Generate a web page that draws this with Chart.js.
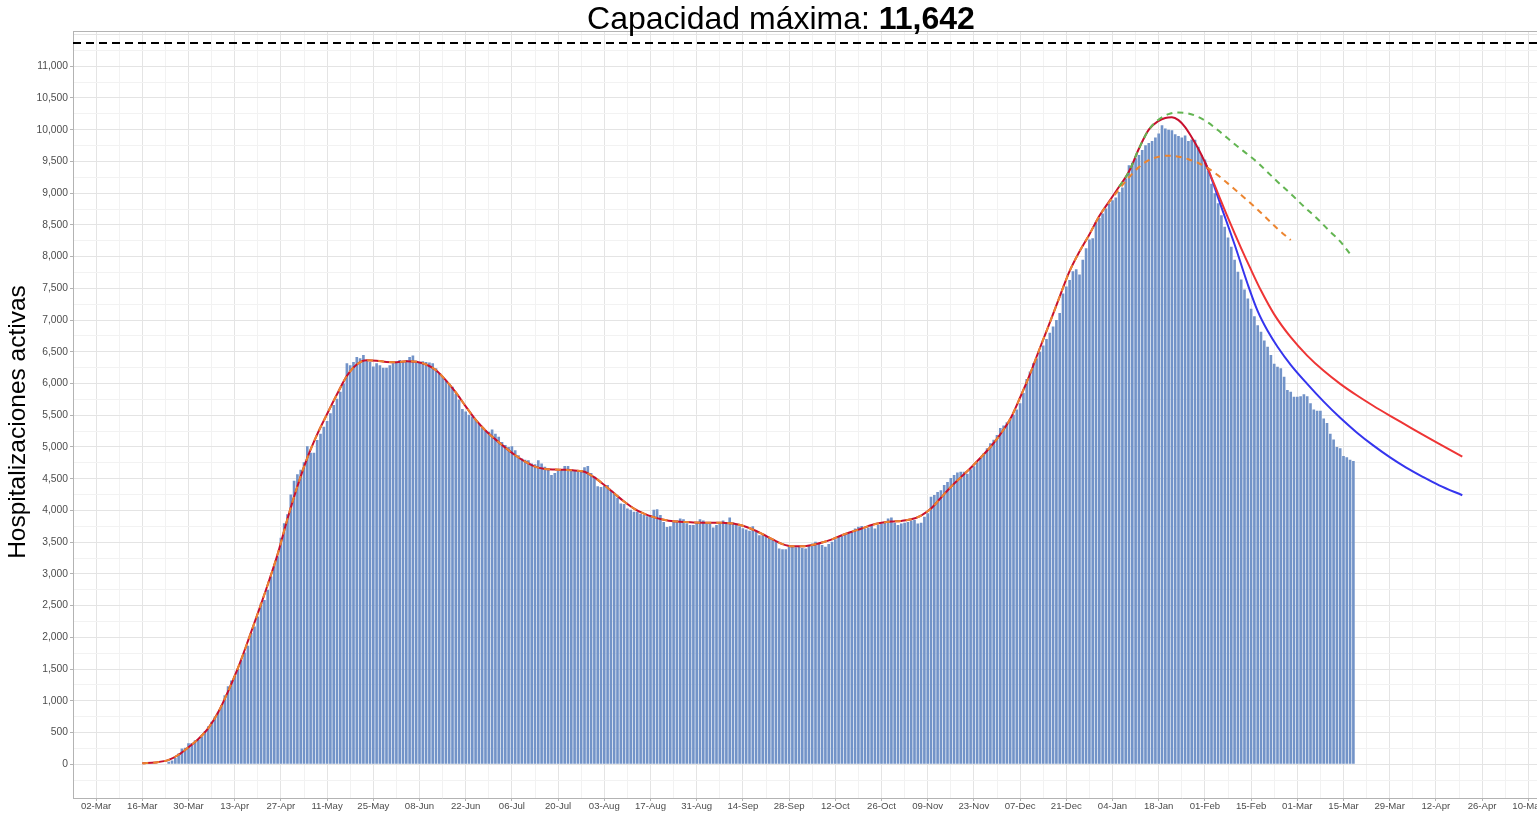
<!DOCTYPE html>
<html>
<head>
<meta charset="utf-8">
<script src="https://cdn.jsdelivr.net/npm/chart.js@4.4.1/dist/chart.umd.min.js"></script>
<style>
  html, body { margin: 0; padding: 0; background: #fff; overflow: hidden; }
  canvas { display: block; }
</style>
</head>
<body>
<canvas id="hospChart" width="1560" height="814"></canvas>
<script>
// day 0 = 02-Mar-2020, one unit per day
const xTickLabels = ['02-Mar','16-Mar','30-Mar','13-Apr','27-Apr','11-May','25-May','08-Jun','22-Jun','06-Jul',
  '20-Jul','03-Aug','17-Aug','31-Aug','14-Sep','28-Sep','12-Oct','26-Oct','09-Nov','23-Nov','07-Dec','21-Dec',
  '04-Jan','18-Jan','01-Feb','15-Feb','01-Mar','15-Mar','29-Mar','12-Apr','26-Apr','10-May'];

const capacidadMaxima = '11,642';
const lineaCapacidad = 11367;

// daily active hospitalizations, first bar = day 22 (24-Mar-2020)
const primerDiaBarras = 22;
const hospitalizaciones = [
  40, 60, 100, 170, 250, 260, 330, 335, 380, 385,
  440, 520, 600, 670, 750, 830, 930, 1090, 1230, 1320,
  1390, 1500, 1640, 1760, 1870, 2070, 2170, 2330, 2540, 2590,
  2750, 2960, 3150, 3280, 3570, 3800, 3940, 4250, 4470, 4570,
  4640, 4760, 5010, 4910, 4910, 5110, 5210, 5320, 5410, 5530,
  5660, 5760, 5870, 6000, 6320, 6290, 6340, 6420, 6400, 6450,
  6370, 6340, 6270, 6320, 6290, 6250, 6250, 6290, 6320, 6330,
  6370, 6340, 6370, 6420, 6440, 6360, 6340, 6350, 6340, 6330,
  6320, 6240, 6160, 6110, 6050, 6000, 5950, 5840, 5750, 5600,
  5560, 5510, 5480, 5430, 5370, 5300, 5265, 5240, 5275, 5210,
  5160, 5080, 5030, 5000, 5010, 4950, 4870, 4820, 4800, 4790,
  4740, 4730, 4790, 4740, 4690, 4660, 4560, 4590, 4620, 4650,
  4700, 4700, 4640, 4620, 4625, 4625, 4680, 4700, 4590, 4530,
  4380, 4370, 4385, 4400, 4320, 4270, 4200, 4110, 4100, 4030,
  4010, 3980, 3980, 3950, 3930, 3910, 3930, 4010, 4020, 3930,
  3820, 3740, 3750, 3820, 3840, 3875, 3860, 3800, 3770, 3770,
  3820, 3860, 3840, 3790, 3790, 3730, 3770, 3810, 3840, 3820,
  3890, 3810, 3790, 3750, 3720, 3700, 3680, 3750, 3665, 3610,
  3610, 3590, 3575, 3545, 3505, 3400, 3390, 3390, 3430, 3430,
  3420, 3430, 3410, 3400, 3455, 3480, 3505, 3480, 3455, 3430,
  3470, 3505, 3545, 3585, 3610, 3630, 3650, 3665, 3715, 3745,
  3755, 3715, 3730, 3755, 3715, 3770, 3795, 3820, 3875, 3890,
  3805, 3770, 3795, 3805, 3820, 3840, 3850, 3795, 3805, 3900,
  3955, 4215, 4245, 4290, 4320, 4400, 4450, 4510, 4560, 4600,
  4610, 4610, 4580, 4650, 4695, 4760, 4830, 4900, 4980, 5060,
  5115, 5190, 5300, 5340, 5390, 5440, 5510, 5590, 5690, 5850,
  6070, 6190, 6320, 6400, 6500, 6600, 6700, 6800, 6900, 7000,
  7110, 7420, 7530, 7630, 7770, 7800, 7720, 7950, 8130, 8270,
  8290, 8550, 8610, 8680, 8760, 8840, 8890, 8930, 9020, 9090,
  9230, 9440, 9480, 9550, 9600, 9680, 9755, 9790, 9820, 9875,
  9940, 10070, 10020, 10000, 9990, 9930, 9900, 9875, 9910, 9820,
  9845, 9840, 9730, 9600, 9530, 9350, 9150, 9000, 8840, 8650,
  8470, 8300, 8155, 7950, 7760, 7640, 7480, 7340, 7180, 7060,
  6920, 6815, 6680, 6580, 6450, 6310, 6265, 6240, 6105, 5900,
  5870, 5790, 5790, 5800, 5830, 5800, 5690, 5590, 5570, 5570,
  5450, 5380, 5210, 5120, 5000, 4980, 4860, 4840, 4800, 4780
];

// smoothed fit (whole period)
const ajusteDias = [14, 18, 22, 25, 28, 31, 34, 37, 40, 43, 46, 49, 52, 55, 58, 61, 64, 67, 70, 73,
  76, 79, 82, 85, 88, 91, 94, 97, 100, 103, 106, 109, 112, 115, 118, 121, 124, 127, 130, 133,
  136, 139, 142, 145, 148, 151, 154, 157, 160, 163, 166, 169, 172, 175, 178, 181, 184, 187, 190, 193,
  196, 199, 202, 205, 208, 211, 214, 217, 220, 223, 226, 229, 232, 235, 238, 241, 244, 247, 250, 253,
  256, 259, 262, 265, 268, 271, 274, 277, 280, 283, 286, 289, 292, 295, 298, 301, 304, 307, 310, 313,
  316, 319, 322, 324, 326, 328, 330, 332, 334, 336, 337];
const ajusteValores = [15, 30, 70, 150, 270, 400, 570, 820, 1150, 1520, 1940, 2380, 2830, 3310, 3870, 4380, 4830, 5200, 5520, 5830,
  6120, 6300, 6365, 6360, 6340, 6335, 6350, 6345, 6300, 6210, 6050, 5860, 5640, 5430, 5260, 5120, 4990, 4870, 4770, 4690,
  4655, 4645, 4640, 4630, 4610, 4520, 4400, 4270, 4140, 4030, 3950, 3895, 3855, 3830, 3820, 3810, 3808, 3808, 3805, 3795,
  3760, 3700, 3625, 3545, 3470, 3435, 3435, 3455, 3495, 3545, 3610, 3665, 3715, 3770, 3805, 3825, 3835, 3860, 3920, 4030,
  4200, 4370, 4520, 4670, 4830, 5000, 5200, 5440, 5780, 6150, 6560, 6960, 7370, 7770, 8080, 8350, 8640, 8870, 9100, 9340,
  9700, 10000, 10140, 10185, 10195, 10150, 10040, 9880, 9700, 9490, 9370];

// projections
const naranjaDias = [307, 310, 313, 316, 319, 322, 325, 328, 331, 334, 337, 340, 343, 346, 349, 352, 355, 358, 362];
const naranjaValores = [8860, 9060, 9250, 9410, 9520, 9575, 9590, 9575, 9535, 9475, 9390, 9280, 9150, 9015, 8880, 8740, 8590, 8440, 8260];

const verdeDias = [310, 313, 316, 319, 322, 325, 328, 331, 334, 337, 340, 343, 346, 349, 352, 355, 358, 362, 366, 370, 374, 377, 380];
const verdeValores = [9100, 9340, 9700, 10000, 10160, 10245, 10270, 10255, 10200, 10110, 9990, 9860, 9730, 9610, 9480, 9330, 9180, 8990, 8790, 8600, 8390, 8240, 8040];

const rojoDias = [336, 337, 340, 343, 347, 350, 353, 357, 362, 367, 372, 377, 382, 387, 392, 397, 402, 407, 414];
const rojoValores = [9490, 9370, 8990, 8610, 8130, 7790, 7465, 7090, 6730, 6440, 6200, 5995, 5815, 5650, 5495, 5345, 5195, 5050, 4850];

const azulDias = [336, 337, 341, 345, 349, 352, 355, 358, 362, 367, 372, 377, 382, 387, 392, 397, 402, 407, 414];
const azulValores = [9490, 9370, 8780, 8190, 7560, 7140, 6830, 6580, 6295, 5995, 5715, 5460, 5230, 5025, 4840, 4675, 4530, 4395, 4240];

const toPoints = (dias, vals) => dias.map((d, i) => ({ x: d, y: vals[i] }));
const barras = hospitalizaciones.map((v, i) => ({ x: primerDiaBarras + i, y: v }));
const ajuste = toPoints(ajusteDias, ajusteValores);
const naranja = ajuste.filter(p => p.x <= 304).concat(toPoints(naranjaDias, naranjaValores));

const FONT = '"Liberation Sans", Arial, Helvetica, sans-serif';
const CLEAR = 'rgba(0,0,0,0)';

const decorPlugin = {
  id: 'decor',
  afterDatasetsDraw(chart) {
    const { ctx, chartArea, scales } = chart;
    ctx.save();
    // panel border on top
    ctx.strokeStyle = '#b3b3b3';
    ctx.lineWidth = 1;
    ctx.beginPath();
    ctx.moveTo(chartArea.left, Math.round(chartArea.top) + 0.5);
    ctx.lineTo(chartArea.right, Math.round(chartArea.top) + 0.5);
    ctx.stroke();
    // capacity line
    const y = scales.y.getPixelForValue(lineaCapacidad);
    ctx.strokeStyle = '#000';
    ctx.lineWidth = 2;
    ctx.setLineDash([8, 5]);
    ctx.beginPath();
    ctx.moveTo(chartArea.left, y);
    ctx.lineTo(chartArea.right, y);
    ctx.stroke();
    ctx.restore();
  },
  afterDraw(chart) {
    const ctx = chart.ctx;
    ctx.save();
    const t1 = 'Capacidad máxima: ';
    const t2 = capacidadMaxima;
    ctx.font = '32px ' + FONT;
    const w1 = ctx.measureText(t1).width;
    ctx.font = 'bold 32px ' + FONT;
    const w2 = ctx.measureText(t2).width;
    const x0 = 781 - (w1 + w2) / 2;
    ctx.fillStyle = '#000';
    ctx.textBaseline = 'alphabetic';
    ctx.font = '32px ' + FONT;
    ctx.fillText(t1, x0, 29);
    ctx.font = 'bold 32px ' + FONT;
    ctx.fillText(t2, x0 + w1, 29);

    // y axis title
    ctx.translate(18, 422);
    ctx.rotate(-Math.PI / 2);
    ctx.textAlign = 'center';
    ctx.textBaseline = 'middle';
    ctx.font = '24.5px ' + FONT;
    ctx.fillText('Hospitalizaciones activas', 0, 0);
    ctx.restore();
  }
};

const lineBase = { type: 'line', pointRadius: 0, borderWidth: 2, fill: false, cubicInterpolationMode: 'monotone' };

new Chart(document.getElementById('hospChart').getContext('2d'), {
  type: 'bar',
  data: {
    datasets: [
      Object.assign({}, lineBase, { data: toPoints(verdeDias, verdeValores), borderColor: '#63b552', borderDash: [6, 5], order: 1 }),
      Object.assign({}, lineBase, { data: naranja, borderColor: '#ec8530', borderDash: [6, 5], order: 2 }),
      Object.assign({}, lineBase, { data: ajuste, borderColor: '#c8102e', order: 3 }),
      Object.assign({}, lineBase, { data: toPoints(rojoDias, rojoValores), borderColor: '#ee3535', order: 4 }),
      Object.assign({}, lineBase, { data: toPoints(azulDias, azulValores), borderColor: '#3535ee', order: 5 }),
      {
        type: 'bar',
        data: barras,
        backgroundColor: '#7293c8',
        borderWidth: 0,
        barPercentage: 0.8,
        categoryPercentage: 1,
        order: 10
      }
    ]
  },
  options: {
    responsive: false,
    animation: false,
    events: [],
    layout: { padding: { top: 31, right: 8.6, left: 0, bottom: 0 } },
    plugins: { legend: { display: false }, tooltip: { enabled: false }, title: { display: false } },
    scales: {
      x: {
        type: 'linear',
        min: -7,
        max: 441,
        offset: false,
        afterFit: s => { s.height = 16; },
        border: { color: '#b3b3b3', width: 1 },
        grid: {
          offset: false,
          tickLength: 3,
          color: c => (c.tick && c.tick.value % 14 === 0) ? '#e4e4e4' : '#f2f2f2',
          tickColor: c => (c.tick && c.tick.value % 14 === 0 && c.tick.value >= 0) ? '#b3b3b3' : CLEAR
        },
        ticks: {
          stepSize: 7,
          includeBounds: false,
          autoSkip: false,
          maxRotation: 0,
          minRotation: 0,
          padding: 0,
          color: '#4d4d4d',
          font: { family: FONT, size: 9.6 },
          callback: v => (v % 14 === 0 && v >= 0) ? xTickLabels[v / 14] : ''
        }
      },
      y: {
        type: 'linear',
        min: -531,
        max: 11555,
        afterFit: s => { s.width = 73; },
        border: { color: '#b3b3b3', width: 1 },
        grid: {
          tickLength: 3,
          color: c => {
            const v = c.tick ? c.tick.value : 0;
            if (v < -300) return CLEAR;
            return v % 500 === 0 ? '#e4e4e4' : '#f2f2f2';
          },
          tickColor: c => {
            const v = c.tick ? c.tick.value : 0;
            return (v % 500 === 0 && v >= 0 && v <= 11000) ? '#b3b3b3' : CLEAR;
          }
        },
        ticks: {
          stepSize: 250,
          includeBounds: false,
          autoSkip: false,
          padding: 2,
          color: '#4d4d4d',
          font: { family: FONT, size: 10.3 },
          callback: v => (v % 500 === 0 && v >= 0 && v <= 11000) ? v.toLocaleString('en-US') : ''
        },
        title: { display: false }
      }
    }
  },
  plugins: [decorPlugin]
});
</script>
</body>
</html>
